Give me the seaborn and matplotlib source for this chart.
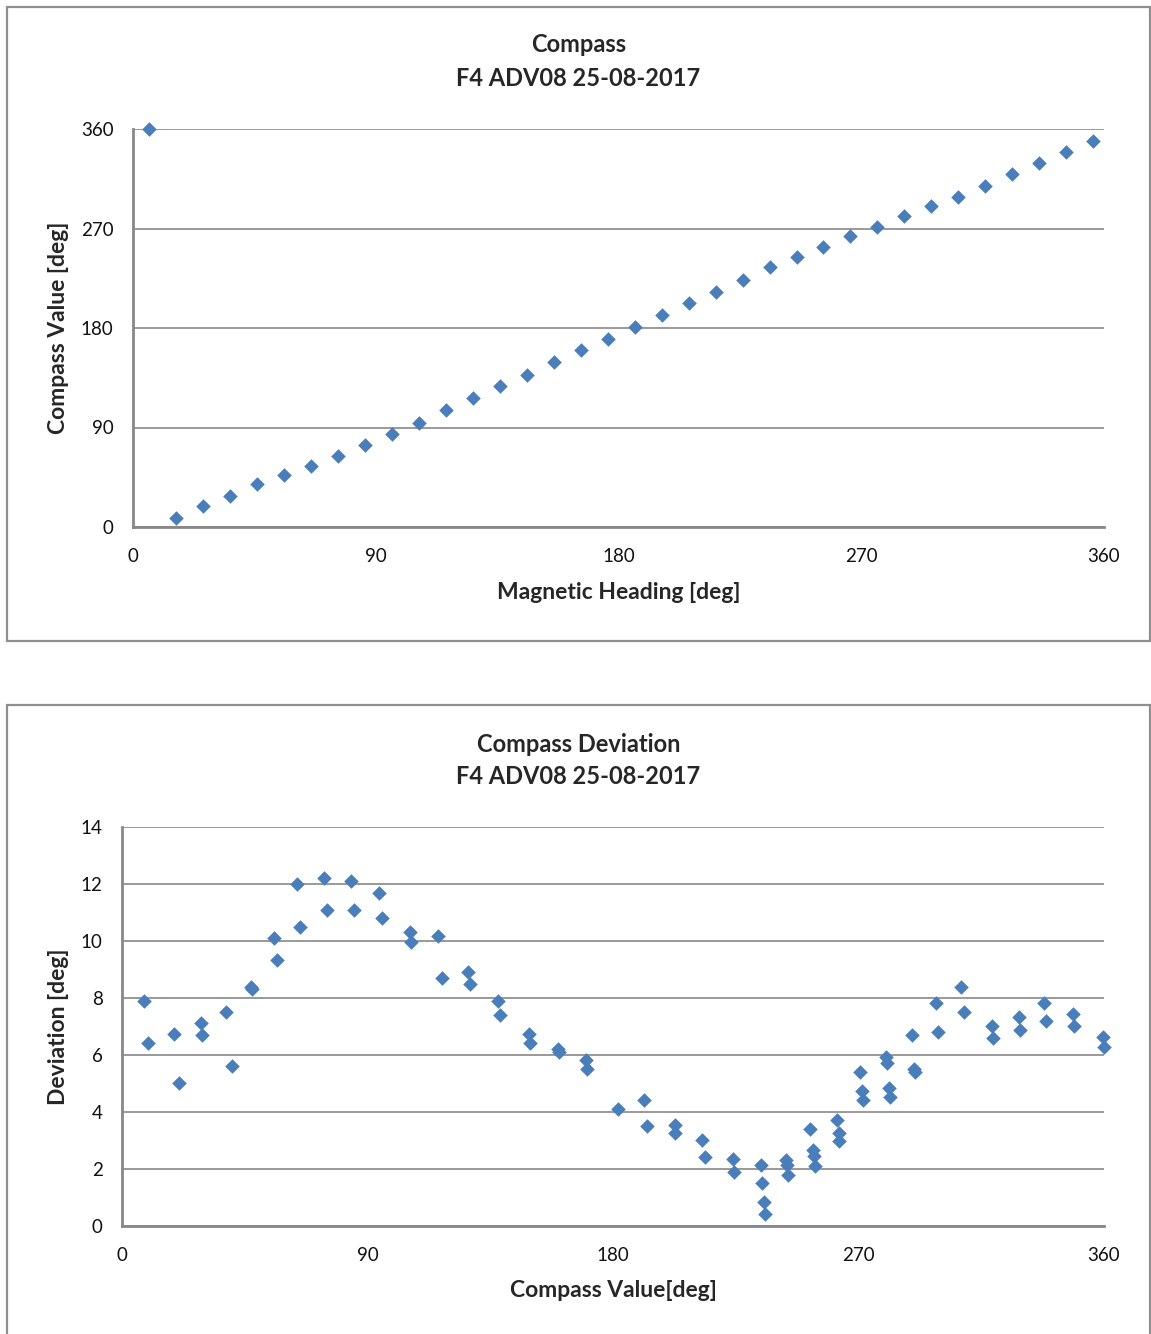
import numpy as np
import pandas as pd
import seaborn as sns
import matplotlib
matplotlib.use("Agg")
import matplotlib.pyplot as plt
from matplotlib.patches import Rectangle
from matplotlib.ticker import MultipleLocator, FixedLocator

sns.set_style("white")
plt.rcParams['font.family'] = ['Lato', 'DejaVu Sans']

# --- data ---
heading = [6, 16, 26, 36, 46, 56, 66, 76, 86, 96, 106, 116, 126, 136, 146, 156, 166, 176,
           186, 196, 206, 216, 226, 236, 246, 256, 266, 276, 286, 296, 306, 316, 326, 336, 346, 356]
compass = [360, 8.5, 19.4, 28.4, 38.7, 47.1, 55.6, 64.1, 74.0, 84.0, 94.2, 105.5, 116.3, 127.2,
           137.7, 149.0, 159.8, 170.3, 181.2, 191.8, 202.7, 212.9, 223.8, 235.0, 244.1, 253.4,
           262.8, 271.3, 280.9, 290.3, 298.7, 308.1, 319.6, 329.3, 338.9, 348.8]

dev_compass = [7.9, 9.7, 19.2, 20.9, 28.9, 29.2, 38.3, 40.5, 47.4, 47.7, 55.7, 56.7, 64.1, 65.4,
               73.9, 75.0, 83.8, 84.9, 94.2, 95.2, 105.6, 105.9, 115.9, 117.2, 126.9, 127.4,
               138.0, 138.5, 149.2, 149.5, 159.9, 160.1, 170.1, 170.5, 181.9, 191.4, 192.4,
               202.6, 202.8, 212.8, 213.8, 224.1, 224.3, 234.1, 234.8, 235.3, 235.6,
               243.6, 243.8, 244.2, 252.4, 253.3, 253.6, 253.9, 262.2, 262.7, 262.9,
               270.5, 271.4, 271.7, 280.0, 280.3, 281.1, 281.5, 289.5, 290.4, 290.7,
               298.3, 299.2, 307.7, 308.5, 319.0, 319.4, 328.8, 329.2, 338.1, 338.7,
               348.5, 349.0, 359.5, 360.0]
deviation = [7.91, 6.41, 6.72, 5.01, 7.12, 6.70, 7.51, 5.61, 8.39, 8.30, 10.11, 9.32, 12.0, 10.5,
             12.21, 11.10, 12.10, 11.10, 11.70, 10.80, 10.32, 9.98, 10.19, 8.71, 8.92, 8.50,
             7.91, 7.40, 6.73, 6.41, 6.22, 6.12, 5.82, 5.50, 4.12, 4.42, 3.51,
             3.54, 3.27, 3.02, 2.41, 2.34, 1.91, 2.13, 1.52, 0.85, 0.41,
             2.32, 2.14, 1.79, 3.40, 2.66, 2.46, 2.11, 3.72, 3.25, 2.99,
             5.41, 4.75, 4.42, 5.92, 5.71, 4.83, 4.52, 6.70, 5.50, 5.41,
             7.81, 6.82, 8.40, 7.52, 7.03, 6.59, 7.32, 6.88, 7.81, 7.20,
             7.44, 7.02, 6.62, 6.29]

x_ticks = [0, 45, 90, 135, 180, 225, 270, 315, 360]
x_labels = ['0', '', '90', '', '180', '', '270', '', '360']

df_top = pd.DataFrame({'heading': heading, 'compass': compass})
df_bot = pd.DataFrame({'compass': dev_compass, 'deviation': deviation})

W, H = 1151, 1334
blue = '#4A7EBB'
grey = '#878787'

fig = plt.figure(figsize=(W / 100, H / 100), dpi=100)

# panel frames
fig.patches.append(Rectangle((7 / W, 1 - 641 / H), 1143 / W, 634 / H, transform=fig.transFigure,
                             fill=False, edgecolor='#8f8f8f', linewidth=1.6))
fig.patches.append(Rectangle((7 / W, -0.01), 1143 / W, 1 - 705 / H + 0.01, transform=fig.transFigure,
                             fill=False, edgecolor='#8f8f8f', linewidth=1.6))

ax1 = fig.add_axes([133 / W, 1 - 527 / H, (1104 - 133) / W, (527 - 129) / H])
ax2 = fig.add_axes([122 / W, 1 - 1226 / H, (1104 - 122) / W, (1226 - 827) / H])


def style_axes(ax):
    for side in ['top', 'right']:
        ax.spines[side].set_visible(False)
    for side in ['left', 'bottom']:
        ax.spines[side].set_color(grey)
        ax.spines[side].set_linewidth(2.0)
    ax.set_xlim(0, 360)
    ax.xaxis.set_major_locator(FixedLocator(x_ticks))
    ax.set_xticklabels(x_labels)
    ax.tick_params(axis='both', which='major', direction='out', length=5, width=1.2,
                   color=grey, labelsize=13.5, labelcolor='#111111')
    ax.tick_params(axis='x', pad=10)
    ax.tick_params(axis='y', pad=9)
    ax.yaxis.grid(True, color=grey, linewidth=1.2)
    ax.set_axisbelow(True)


# --- top chart ---
sns.scatterplot(data=df_top, x='heading', y='compass', marker='D', s=55, color=blue,
                linewidth=0, ax=ax1, clip_on=False, zorder=3)
style_axes(ax1)
ax1.set_ylim(0, 360)
ax1.yaxis.set_major_locator(MultipleLocator(90))
ax1.yaxis.set_minor_locator(MultipleLocator(45))
ax1.tick_params(axis='y', which='minor', direction='out', length=5, width=1.2, color=grey)
ax1.set_xlabel('Magnetic Heading [deg]', fontsize=16.5, fontweight='bold')
ax1.set_ylabel('Compass Value [deg]', fontsize=16.5, fontweight='bold')
ax1.xaxis.set_label_coords(0.5, -0.138)
ax1.yaxis.set_label_coords(-0.066, 0.5)
fig.text(578.5 / W, 1 - 45 / H, 'Compass', ha='center', va='center', fontsize=17, fontweight='bold')
fig.text(578.5 / W, 1 - 78 / H, 'F4 ADV08 25-08-2017', ha='center', va='center', fontsize=17,
         fontweight='bold')

# --- bottom chart ---
sns.scatterplot(data=df_bot, x='compass', y='deviation', marker='D', s=55, color=blue,
                linewidth=0, ax=ax2, clip_on=False, zorder=3)
style_axes(ax2)
ax2.set_ylim(0, 14)
ax2.yaxis.set_major_locator(MultipleLocator(2))
ax2.yaxis.set_minor_locator(MultipleLocator(0.4))
ax2.tick_params(axis='y', which='minor', direction='out', length=4, width=1.0, color=grey)
ax2.set_xlabel('Compass Value[deg]', fontsize=16.5, fontweight='bold')
ax2.set_ylabel('Deviation [deg]', fontsize=16.5, fontweight='bold')
ax2.xaxis.set_label_coords(0.5, -0.136)
ax2.yaxis.set_label_coords(-0.054, 0.5)
fig.text(578.5 / W, 1 - 744 / H, 'Compass Deviation', ha='center', va='center', fontsize=17,
         fontweight='bold')
fig.text(578.5 / W, 1 - 777 / H, 'F4 ADV08 25-08-2017', ha='center', va='center', fontsize=17,
         fontweight='bold')

fig.savefig('out.png', dpi=100)
